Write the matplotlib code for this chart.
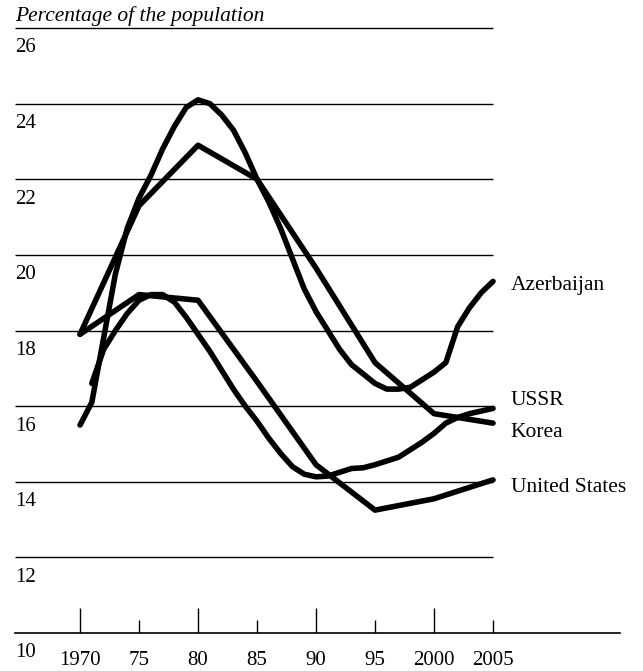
import matplotlib
matplotlib.use("Agg")
from matplotlib import pyplot as plt

plt.rcParams['font.family'] = ['Liberation Serif', 'DejaVu Serif']

# --- data ---
az_years = [1970, 1971, 1972, 1973, 1974, 1975, 1976, 1977, 1978, 1979, 1980,
            1981, 1982, 1983, 1984, 1985, 1986, 1987, 1988, 1989, 1990, 1991,
            1992, 1993, 1994, 1995, 1996, 1997, 1998, 1999, 2000, 2001, 2002,
            2003, 2004, 2005]
az_vals = [15.5, 16.1, 17.8, 19.5, 20.7, 21.5, 22.1, 22.8, 23.4, 23.9, 24.1,
           24.0, 23.7, 23.3, 22.7, 22.0, 21.4, 20.7, 19.9, 19.1, 18.5, 18.0,
           17.5, 17.1, 16.85, 16.6, 16.45, 16.45, 16.5, 16.7, 16.9, 17.15, 18.1,
           18.6, 19.0, 19.3]

ussr_years = [1971, 1972, 1973, 1974, 1975, 1976, 1977, 1978, 1979, 1980,
              1981, 1982, 1983, 1984, 1985, 1986, 1987, 1988, 1989, 1990,
              1991, 1992, 1993, 1994, 1995, 1996, 1997, 1998, 1999, 2000,
              2001, 2002, 2003, 2004, 2005]
ussr_vals = [16.6, 17.5, 18.0, 18.45, 18.8, 18.95, 18.95, 18.75, 18.35, 17.9,
             17.45, 16.95, 16.45, 16.0, 15.6, 15.15, 14.75, 14.4, 14.2, 14.13,
             14.15, 14.25, 14.35, 14.37, 14.45, 14.55, 14.65, 14.85, 15.05, 15.28,
             15.55, 15.7, 15.8, 15.87, 15.94]

korea_years = [1970, 1975, 1980, 1985, 1990, 1995, 2000, 2005]
korea_vals = [17.9, 21.3, 22.9, 22.0, 19.65, 17.15, 15.8, 15.55]

us_years = [1970, 1975, 1980, 1985, 1990, 1995, 2000, 2005]
us_vals = [17.9, 18.95, 18.8, 16.65, 14.45, 13.25, 13.55, 14.05]

labels = ["Azerbaijan", "USSR", "Korea", "United States"]
label_y = [19.2, 16.16, 15.29, 13.86]

grid_vals = [12, 14, 16, 18, 20, 22, 24, 26]
ytick_labels = ["10", "12", "14", "16", "18", "20", "22", "24", "26"]
major_years = [1970, 1980, 1990, 2000]
major_labels = ["1970", "80", "90", "2000"]
minor_years = [1975, 1985, 1995, 2005]
minor_labels = ["75", "85", "95", "2005"]

W, H = 643, 671
fig = plt.figure(figsize=(W / 100, H / 100), dpi=100)
ax = fig.add_axes([15 / W, (H - 633) / H, 605 / W, 605 / H])
ax.set_xlim(1964.49, 2015.76)
ax.set_ylim(10, 26)

# horizontal rules
ax.hlines(grid_vals, 1964.49, 2005, colors='black', linewidth=1.0, clip_on=False)

lw = 4.0
for xs, ys in [(az_years, az_vals), (ussr_years, ussr_vals),
               (korea_years, korea_vals), (us_years, us_vals)]:
    ax.plot(xs, ys, color='black', linewidth=lw, solid_capstyle='round',
            solid_joinstyle='round', clip_on=False)

for name, y in zip(labels, label_y):
    ax.text(2006.5, y, name, fontsize=15.5, va='center', ha='left')

# y labels sit just under each rule
for i, lab in enumerate(ytick_labels):
    v = 10 + 2 * i
    ax.annotate(lab, xy=(0, v), xycoords=('axes fraction', 'data'),
                xytext=(0, -7.5), textcoords='offset points',
                ha='left', va='top', fontsize=15)

ax.set_yticks([])
for s in ['top', 'right', 'left']:
    ax.spines[s].set_visible(False)
ax.spines['bottom'].set_linewidth(1.2)

ax.set_xticks(major_years, major_labels)
ax.set_xticks(minor_years, minor_labels, minor=True)
ax.tick_params(axis='x', which='major', direction='in', length=18, width=1.0,
               pad=13, labelsize=15)
ax.tick_params(axis='x', which='minor', direction='in', length=9.5, width=1.0,
               pad=13, labelsize=15)

fig.text(15 / W, 1 - 21 / H, "Percentage of the population",
         fontsize=15.5, style='italic', ha='left', va='baseline')

fig.savefig("out.png", dpi=100)
